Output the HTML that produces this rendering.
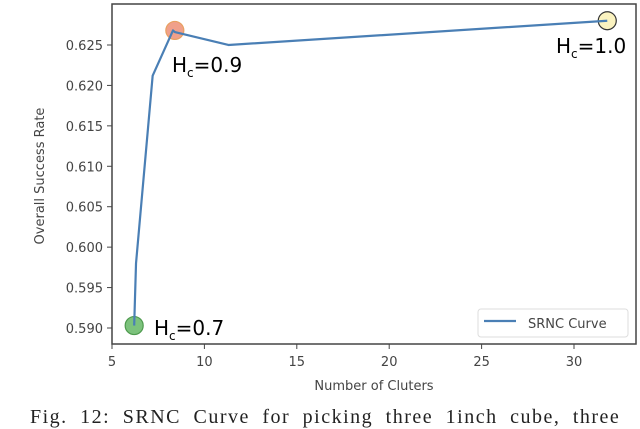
<!DOCTYPE html>
<html><head><meta charset="utf-8"><style>
body{margin:0;background:#fff;width:640px;height:424px;overflow:hidden;position:relative}
svg{position:absolute;left:0;top:0}
.cap{position:absolute;left:30px;top:406px;font:20px "Liberation Serif",serif;color:#222;white-space:nowrap;letter-spacing:1.5px;word-spacing:6px}
</style></head><body>
<svg id="c" width="640" height="424"></svg>
<div class="cap">Fig. 12: SRNC Curve for picking three 1inch cube, three</div>
<script>
const xs=[6.2,6.3,7.2,8.3,8.4,11.3,31.8];
const ys=[0.5903,0.598,0.6212,0.6268,0.6266,0.625,0.628];
const xTicks=[5,10,15,20,25,30];
const yTicks=[0.590,0.595,0.600,0.605,0.610,0.615,0.620,0.625];
const marks=[{x:6.2,y:0.5903,c:'#7cc27c',s:'#4e9a4e'},{x:8.4,y:0.6268,c:'#f0a08a',s:'#e8a060'},{x:31.8,y:0.628,c:'#fbf3c0',s:'#333'}];
const L=112,R=636,T=4,B=344;
const X=v=>112+(v-5)*18.48;
const Y=v=>328-(v-0.590)*8086;
const svg=document.getElementById('c');const NS='http://www.w3.org/2000/svg';
function el(n,a,p){const e=document.createElementNS(NS,n);for(const k in a)e.setAttribute(k,a[k]);(p||svg).appendChild(e);return e;}
let f=el('rect',{x:L,y:T,width:R-L,height:B-T,fill:'none',stroke:'#444','stroke-width':1.5});

xTicks.forEach(t=>{const x=X(t);el('line',{x1:x,x2:x,y1:B,y2:B+5,stroke:'#444'});
const tx=el('text',{x:x,y:B+22,'text-anchor':'middle','font-size':13,fill:'#444','font-family':'DejaVu Sans, sans-serif'});tx.textContent=t;
});
yTicks.forEach(t=>{const y=Y(t);el('line',{x1:L-5,x2:L,y1:y,y2:y,stroke:'#444'});
const tx=el('text',{x:L-9,y:y+5,'text-anchor':'end','font-size':13,fill:'#444','font-family':'DejaVu Sans, sans-serif'});tx.textContent=t.toFixed(3);
});
let xl=el('text',{x:374,y:390,'text-anchor':'middle','font-size':13,fill:'#444','font-family':'DejaVu Sans, sans-serif'});xl.textContent='Number of Cluters';

let yl=el('text',{x:0,y:0,'text-anchor':'middle','font-size':13,fill:'#444','font-family':'DejaVu Sans, sans-serif',transform:'translate(44,176) rotate(-90)'});yl.textContent='Overall Success Rate';

marks.forEach(m=>{const c=el('circle',{cx:X(m.x),cy:Y(m.y),r:9,fill:m.c,stroke:m.s,'stroke-width':1.2});
});
let pl=el('polyline',{points:xs.map((x,i)=>X(x)+','+Y(ys[i])).join(' '),fill:'none',stroke:'#4a7fb5','stroke-width':2.2,'stroke-linejoin':'round'});

const lab=[[154,335,'0.7'],[172,72,'0.9'],[556,53,'1.0']];
lab.forEach(l=>{const t=el('text',{x:l[0],y:l[1],'font-size':20,fill:'#000','font-family':'DejaVu Sans, sans-serif'});
t.innerHTML='H<tspan font-size="12" dy="5">c</tspan><tspan dy="-5">='+l[2]+'</tspan>';
});
let lg=el('g',{});
el('rect',{x:478,y:309,width:150,height:28,rx:3,fill:'#fff',stroke:'#ddd'},lg);
el('line',{x1:484,x2:516,y1:321,y2:321,stroke:'#4a7fb5','stroke-width':2.2},lg);
let lt=el('text',{x:528,y:328,'font-size':13,fill:'#444','font-family':'DejaVu Sans, sans-serif'},lg);lt.textContent='SRNC Curve';
</script>
</body></html>
